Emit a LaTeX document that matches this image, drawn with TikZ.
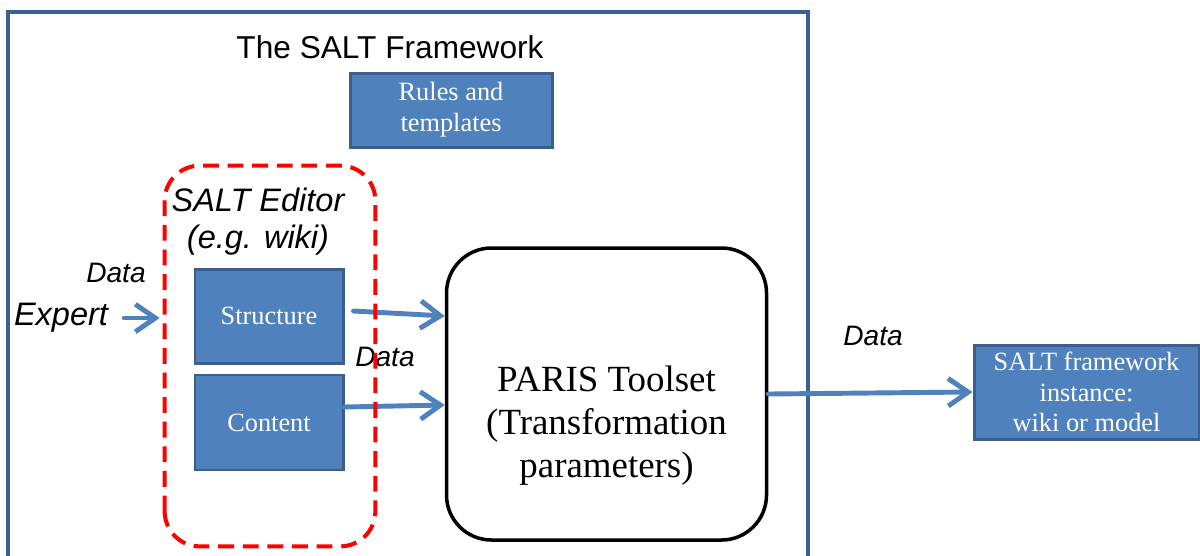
\documentclass[tikz,border=0pt]{standalone}
\usepackage{fontspec}
\setmainfont{Liberation Serif}
\setsansfont{Liberation Sans}
\usetikzlibrary{positioning, arrows.meta, calc}
\definecolor{cFill}{HTML}{4F81BD}
\definecolor{cEdge}{HTML}{3A5F8C}
\definecolor{cFrame}{HTML}{3C6090}
\definecolor{cArrow}{HTML}{4F81BD}
\definecolor{cRed}{HTML}{FF0000}

\begin{document}
\begin{tikzpicture}[
  blu/.style={draw=cEdge,line width=1.7pt,fill=cFill,text=white,align=center,font=\fontsize{15}{17.5}\selectfont,inner sep=2pt},
  frame/.style={draw=cFrame,line width=2.3pt},
  edarea/.style={minimum width=4.2cm,minimum height=7.6cm,inner sep=0pt},
  edline/.style={draw=cRed,line width=2.3pt,dash pattern=on 9pt off 5pt,rounded corners=0.7cm},
  tool/.style={draw=black,line width=2pt,rounded corners=0.9cm,minimum width=6.4cm,minimum height=5.84cm},
  tooltext/.style={align=center,font=\fontsize{21}{24.5}\selectfont},
  arr/.style={-{Straight Barb[length=4mm,width=5.5mm]},draw=cArrow,line width=2.8pt,line cap=round},
  lbl/.style={font=\sffamily\itshape\fontsize{16}{18}\selectfont},
  big/.style={font=\sffamily\itshape\fontsize{18.5}{21}\selectfont,align=center}]
  \useasboundingbox (0,0) rectangle (24,-11.1);
  % outer frame, open at the bottom
  \draw[frame] (0.16,-11.4) |- (16.16,-0.24) -- (16.16,-11.4);
  \node[font=\sffamily\fontsize{18}{21}\selectfont] (title) at (7.8,-0.94) {The SALT Framework};
  \node[blu, minimum width=4.04cm, minimum height=1.48cm] (rules) at (9.02,-2.2) {Rules and\\templates};
  % editor
  \node[edarea] (editor) at (5.4,-7.12) {};
  \node[big] (edname) at (5.16,-4.43) {SALT Editor\\ (e.g. wiki)};
  \node[blu, minimum width=2.96cm, minimum height=1.88cm] (struct) at (5.38,-6.32) {Structure};
  \node[blu, minimum width=2.96cm, minimum height=1.9cm, below=0.18cm of struct] (content) {Content};
  % toolset
  \node[tool] (paris) at (12.13,-7.88) {};
  \node[tooltext] (paristxt) at ([yshift=-0.64cm]paris.center) {PARIS Toolset\\(Transformation\\parameters)};
  \node[blu, minimum width=4.5cm, minimum height=1.88cm] (inst) at (21.73,-7.84) {SALT framework\\instance:\\wiki or model};
  % labels
  \node[big] (expert) at (1.22,-6.36) {Expert};
  \node[lbl] (dExp) at (2.32,-5.46) {Data};
  \node[lbl] (dEd) at (7.7,-7.14) {Data};
  \node[lbl] (dOut) at (17.46,-6.72) {Data};
  % arrows
  \draw[arr, shorten <=0.2cm, shorten >=0.1cm] (expert.east) -- (expert.east -| editor.west);
  \draw[arr] ([xshift=0.18cm, yshift=0.1cm]struct.east) -- ([yshift=1.56cm]paris.west);
  \draw[arr] ([yshift=0.31cm]content.east) -- ([yshift=-0.22cm]paris.west);
  \draw[arr] (paris.east) -- (inst.west);
  \draw[edline] (editor.south west) rectangle (editor.north east);
\end{tikzpicture}
\end{document}
